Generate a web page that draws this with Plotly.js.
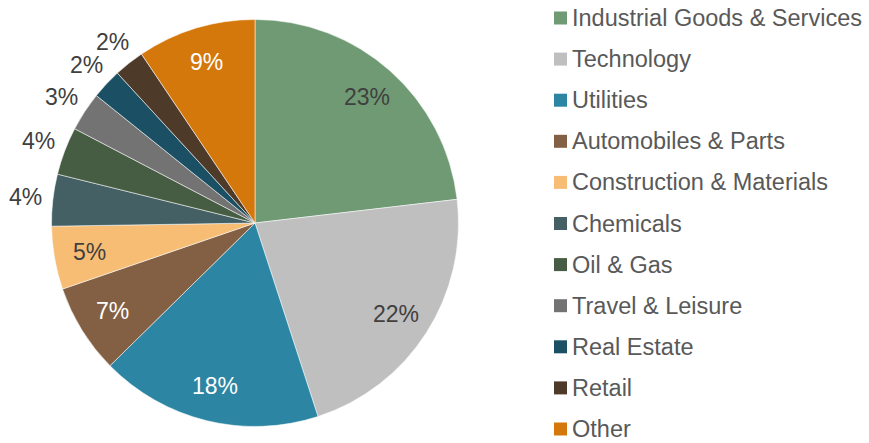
<!DOCTYPE html>
<html>
<head>
<meta charset="utf-8">
<script src="https://cdn.plot.ly/plotly-3.0.1.min.js"></script>
<style>html,body{margin:0;padding:0;background:#fff;}#chart{width:869px;height:443px;}</style>
</head>
<body>
<div id="chart"></div>
<script>
// ---- data ----
const categories = [
  "Industrial Goods & Services", "Technology", "Utilities", "Automobiles & Parts",
  "Construction & Materials", "Chemicals", "Oil & Gas", "Travel & Leisure",
  "Real Estate", "Retail", "Other"
];
const values = [23.1, 21.8, 17.6, 7.1, 5.0, 4.1, 3.8, 3.1, 2.4, 2.4, 9.4];

// ---- styles ----
const sliceColors = ["#6F9A74", "#BFBFBF", "#2C86A3", "#836043", "#F7BD74", "#446064",
  "#475D43", "#737373", "#1B4F63", "#4E3A28", "#D4780C"];
const labelFontColors = ["#404040", "#404040", "#ffffff", "#ffffff", "#404040", "#404040",
  "#404040", "#404040", "#404040", "#404040", "#ffffff"];
const labelOutside = [false, false, false, false, false, true, true, true, true, true, false];

const W = 869, H = 443;
const cx = 255, cy = 223, R = 203.5;   // pie geometry in pixels
const rIn = 168, rOut = 231;
const FONT = "Liberation Sans, Arial, sans-serif";

const total = values.reduce((a, b) => a + b, 0);
const annotations = [];
const shapes = [];
let cum = 0;
values.forEach((v, i) => {
  const mid = (cum + v / 2) / total * 2 * Math.PI;
  cum += v;
  const r = labelOutside[i] ? rOut : rIn;
  const px = cx + r * Math.sin(mid);
  const py = cy - r * Math.cos(mid);
  annotations.push({
    xref: "paper", yref: "paper", x: px / W, y: 1 - py / H,
    xanchor: "center", yanchor: "middle", showarrow: false,
    text: Math.round(v / total * 100) + "%",
    font: {family: FONT, size: 23, color: labelFontColors[i]}
  });
});

// custom legend
const legX = 554, legTextX = 570, legY0 = 18, legStep = 41.1, box = 13;
categories.forEach((c, i) => {
  const yc = legY0 + i * legStep;
  shapes.push({
    type: "rect", xref: "paper", yref: "paper",
    x0: legX / W, x1: (legX + box) / W,
    y0: 1 - (yc + box / 2) / H, y1: 1 - (yc - box / 2) / H,
    fillcolor: sliceColors[i], line: {width: 0}
  });
  annotations.push({
    xref: "paper", yref: "paper", x: legTextX / W, y: 1 - yc / H,
    xanchor: "left", yanchor: "middle", showarrow: false, text: c,
    font: {family: FONT, size: 23.5, color: "#595959"}
  });
});

const trace = {
  type: "pie",
  labels: categories,
  values: values,
  sort: false,
  direction: "clockwise",
  rotation: 0,
  textinfo: "none",
  hoverinfo: "label+percent",
  marker: {colors: sliceColors, line: {color: "rgba(255,255,255,0.7)", width: 0.75}},
  domain: {x: [(cx - R) / W, (cx + R) / W], y: [(H - cy - R) / H, (H - cy + R) / H]},
  showlegend: false
};

const layout = {
  width: W, height: H,
  margin: {l: 0, r: 0, t: 0, b: 0},
  paper_bgcolor: "#ffffff",
  plot_bgcolor: "#ffffff",
  showlegend: false,
  annotations: annotations,
  shapes: shapes
};

Plotly.newPlot("chart", [trace], layout, {displayModeBar: false, staticPlot: true});
</script>
</body>
</html>
